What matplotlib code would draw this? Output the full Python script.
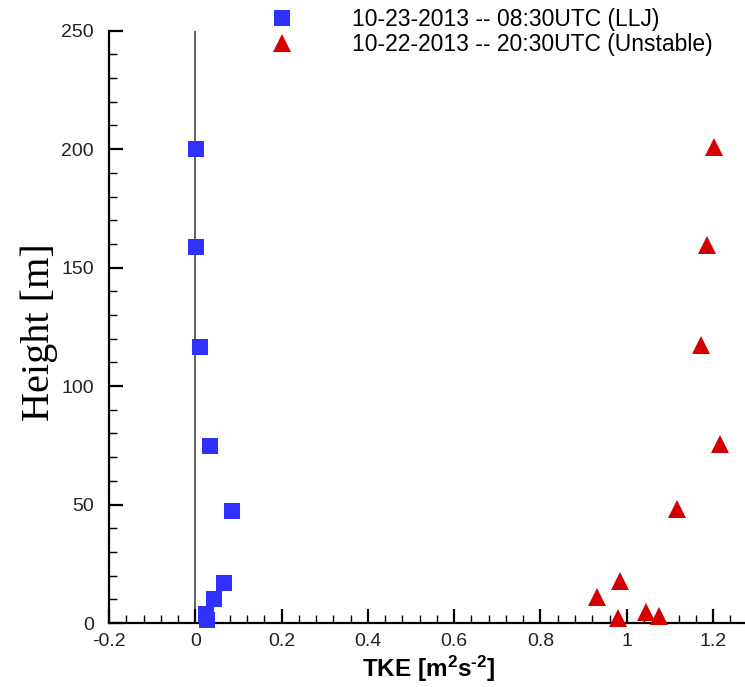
import numpy as np
import matplotlib
matplotlib.use("Agg")
import matplotlib.pyplot as plt
from matplotlib.ticker import MultipleLocator, FuncFormatter

plt.rcParams['font.family'] = ['Liberation Sans', 'DejaVu Sans']
plt.rcParams['axes.unicode_minus'] = False
plt.rcParams['mathtext.fontset'] = 'custom'
plt.rcParams['mathtext.bf'] = 'Liberation Sans:bold'
plt.rcParams['mathtext.rm'] = 'Liberation Sans:bold'
plt.rcParams['mathtext.default'] = 'bf'

# LLJ case (10-23-2013 08:30 UTC)
h_llj = [200, 158.6, 116.6, 74.6, 47.2, 16.8, 10.3, 3.9, 1.1]
tke_llj = [0.002, 0.002, 0.012, 0.034, 0.085, 0.066, 0.044, 0.024, 0.027]

# unstable case (10-22-2013 20:30 UTC)
h_uns = [201, 159.6, 117.4, 75.4, 48.0, 17.7, 11.1, 4.8, 3.0, 2.0]
tke_uns = [1.202, 1.187, 1.171, 1.216, 1.117, 0.984, 0.932, 1.044, 1.075, 0.980]

lbl_llj = '10-23-2013 -- 08:30UTC (LLJ)'
lbl_uns = '10-22-2013 -- 20:30UTC (Unstable)'

W, H = 745, 687
fig = plt.figure(figsize=(W / 100, H / 100), dpi=100)
# axes box in pixels: left 109, right 745, bottom 623 (from top), top 30.7
ax = fig.add_axes([109 / W, (H - 623) / H, (W - 109) / W, (623 - 30.7) / H])

ax.axvline(0, color='#555555', lw=1.3, zorder=1)

ax.plot(tke_llj, h_llj, 's', ms=12, color='#3030ff', mec='#3030ff', mew=0,
        label=lbl_llj, clip_on=False, zorder=3)
ax.plot(tke_uns, h_uns, '^', ms=12.5, color='#d40000', mec='#d40000', mew=0,
        label=lbl_uns, clip_on=False, zorder=3)

ax.set_xlim(-0.2, 1.274)
ax.set_ylim(0, 250)

for s in ['top', 'right']:
    ax.spines[s].set_visible(False)
for s in ['left', 'bottom']:
    ax.spines[s].set_linewidth(1.6)
    ax.spines[s].set_zorder(2)

ax.xaxis.set_major_locator(MultipleLocator(0.2))
ax.xaxis.set_minor_locator(MultipleLocator(0.04))
ax.yaxis.set_major_locator(MultipleLocator(50))
ax.yaxis.set_minor_locator(MultipleLocator(10))
ax.xaxis.set_major_formatter(FuncFormatter(lambda v, p: '%g' % round(v, 6)))
ax.yaxis.set_major_formatter(FuncFormatter(lambda v, p: '%g' % v))

ax.tick_params(which='both', direction='in', colors='black', labelcolor='#222222',
               labelsize=14)
ax.tick_params(which='major', length=10, width=1.6)
ax.tick_params(which='minor', length=6, width=1)
ax.tick_params(axis='y', pad=11)
ax.tick_params(axis='x', pad=7)

ax.set_xlabel(r'TKE [m$^{2}$s$^{\text{-}2}$]', fontsize=17.5, fontweight='bold')
ax.xaxis.set_label_coords(0.502, -0.052)
ax.set_ylabel('Height [m]', fontsize=29, family=['Liberation Serif', 'DejaVu Serif'])
ax.yaxis.set_label_coords(-0.080, 0.491)

ax.legend(loc='upper left', bbox_to_anchor=(271 / W, 1 - 8 / H),
          bbox_transform=fig.transFigure, frameon=False, fontsize=16.5,
          handlelength=1.0, handletextpad=2.55, borderpad=0, borderaxespad=0,
          labelspacing=0.08, numpoints=1)

fig.savefig('out.png', dpi=100)
